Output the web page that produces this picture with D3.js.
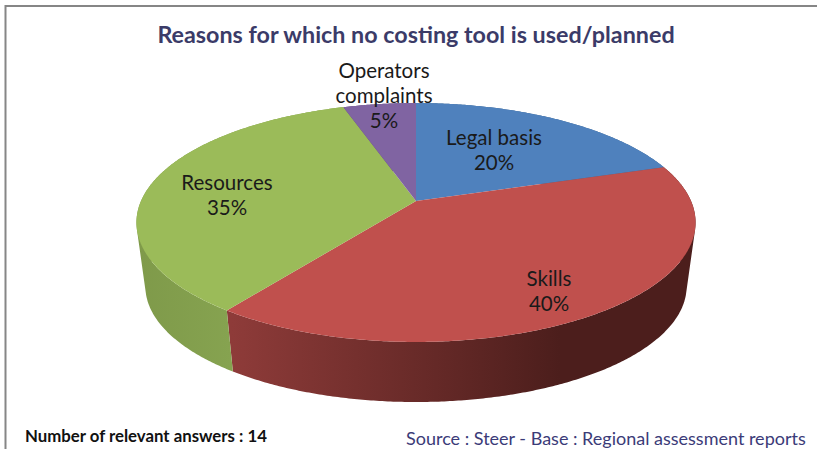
<!DOCTYPE html>
<html>
<head>
<meta charset="utf-8">
<script src="https://cdn.jsdelivr.net/npm/d3@7"></script>
<style>
  html, body { margin: 0; padding: 0; background: #fff; }
  text { font-family: Lato, "Open Sans", sans-serif; }
</style>
</head>
<body>
<script>
var categories = ["Legal basis", "Skills", "Resources", "Operators complaints"];
var values = [20, 40, 35, 5];
var topColors = ["#4f81bd", "#c0504d", "#9bbb59", "#8064a2"];
var titleText = "Reasons for which no costing tool is used/planned";
var answersText = "Number of relevant answers : 14";
var sourceText = "Source : Steer - Base : Regional assessment reports";

var width = 817, height = 449;

// the pie is a flat disc seen in perspective, far side looks smaller
var perspective = 0.18;
var xScale = d3.scaleLinear().domain([-1, 1]).range([141, 691]);
var yScale = d3.scaleLinear().domain([-1, 1]).range([316.6, 85.4]);

// bottom rim = top rim shrunk a little and pushed down
var rimShrink = 0.968;
var rimDrop = 71;

// side wall gets darker to the right: [x start, x end, colour start, colour end]
var wallShade = [
  [141, 691, "#3f668f", "#3f668f"],
  [232, 560, "#8e3b39", "#4c1e1c"],
  [140, 232, "#7f9a4a", "#86a350"],
  [141, 691, "#604b7a", "#604b7a"]
];

function project(a, r) {
  var X = Math.sin(a) * r, Y = Math.cos(a) * r;
  var d = 1 + perspective * Y;
  return [xScale(X / d), yScale(Y / d)];
}

function lower(p) {
  return [xScale(0) + (p[0] - xScale(0)) * rimShrink, p[1] * rimShrink + rimDrop];
}

function rim(s, res) {
  var pts = d3.range(s.startAngle, s.endAngle, res).map(function(a) {
    return project(a, 1);
  });
  pts.push(project(s.endAngle, 1));
  return pts;
}

var pie = d3.pie().sort(null).value(function(d) { return d; });
var slices = pie(values);
var line = d3.line();
var step = Math.PI / 360;

var svg = d3.select("body").append("svg")
  .attr("width", width)
  .attr("height", height)
  .style("display", "block");

var defs = svg.append("defs");
wallShade.forEach(function(w, i) {
  var g = defs.append("linearGradient")
    .attr("id", "wall" + i)
    .attr("gradientUnits", "userSpaceOnUse")
    .attr("x1", w[0]).attr("x2", w[1])
    .attr("y1", 0).attr("y2", 0);
  g.append("stop").attr("offset", 0).attr("stop-color", w[2]);
  g.append("stop").attr("offset", 1).attr("stop-color", w[3]);
});

// frame, only top and left are in the picture
svg.append("path")
  .attr("d", "M5.5," + height + "V6H" + width)
  .attr("fill", "none")
  .attr("stroke", "#868686")
  .attr("stroke-width", 2);

// walls: little quads in one path, all wound the same way so the fold at the
// tangent point does not cancel out
svg.append("g")
  .selectAll("path")
  .data(slices)
  .enter()
  .append("path")
  .attr("d", function(s) {
    var upper = rim(s, step);
    var d = "";
    for (var i = 0; i < upper.length - 1; i++) {
      var quad = [upper[i], upper[i + 1], lower(upper[i + 1]), lower(upper[i])];
      if (d3.polygonArea(quad) < 0) quad.reverse();
      d += line(quad) + "Z";
    }
    return d;
  })
  .attr("fill", function(s, i) { return "url(#wall" + i + ")"; });

// top face
svg.append("g")
  .selectAll("path")
  .data(slices)
  .enter()
  .append("path")
  .attr("d", function(s) {
    return line([project(0, 0)].concat(rim(s, step))) + "Z";
  })
  .attr("fill", function(s, i) { return topColors[i]; });

// data labels, placed by hand like the original
var labelLines = categories.map(function(c, i) {
  var parts = c === "Operators complaints" ? ["Operators", "complaints"] : [c];
  return parts.concat([values[i] + "%"]);
});
var labelX = [494, 549, 227, 384];
var labelY = [145, 286, 190, 78];

labelLines.forEach(function(lines, i) {
  svg.append("text")
    .attr("x", labelX[i])
    .attr("y", labelY[i])
    .attr("text-anchor", "middle")
    .attr("font-size", 20.5)
    .attr("fill", "#1a1a1a")
    .selectAll("tspan")
    .data(lines)
    .enter()
    .append("tspan")
    .attr("x", labelX[i])
    .attr("dy", function(d, j) { return j === 0 ? 0 : 25; })
    .text(function(d) { return d; });
});

svg.append("text")
  .attr("x", 416)
  .attr("y", 43)
  .attr("text-anchor", "middle")
  .attr("font-size", 23.3)
  .attr("font-weight", 700)
  .attr("fill", "#3b3b68")
  .text(titleText);

svg.append("text")
  .attr("x", 25)
  .attr("y", 442)
  .attr("font-size", 16.8)
  .attr("font-weight", 700)
  .attr("fill", "#111")
  .text(answersText);

svg.append("text")
  .attr("x", 406)
  .attr("y", 444.5)
  .attr("font-size", 18)
  .attr("fill", "#3b3b78")
  .text(sourceText);
</script>
</body>
</html>
